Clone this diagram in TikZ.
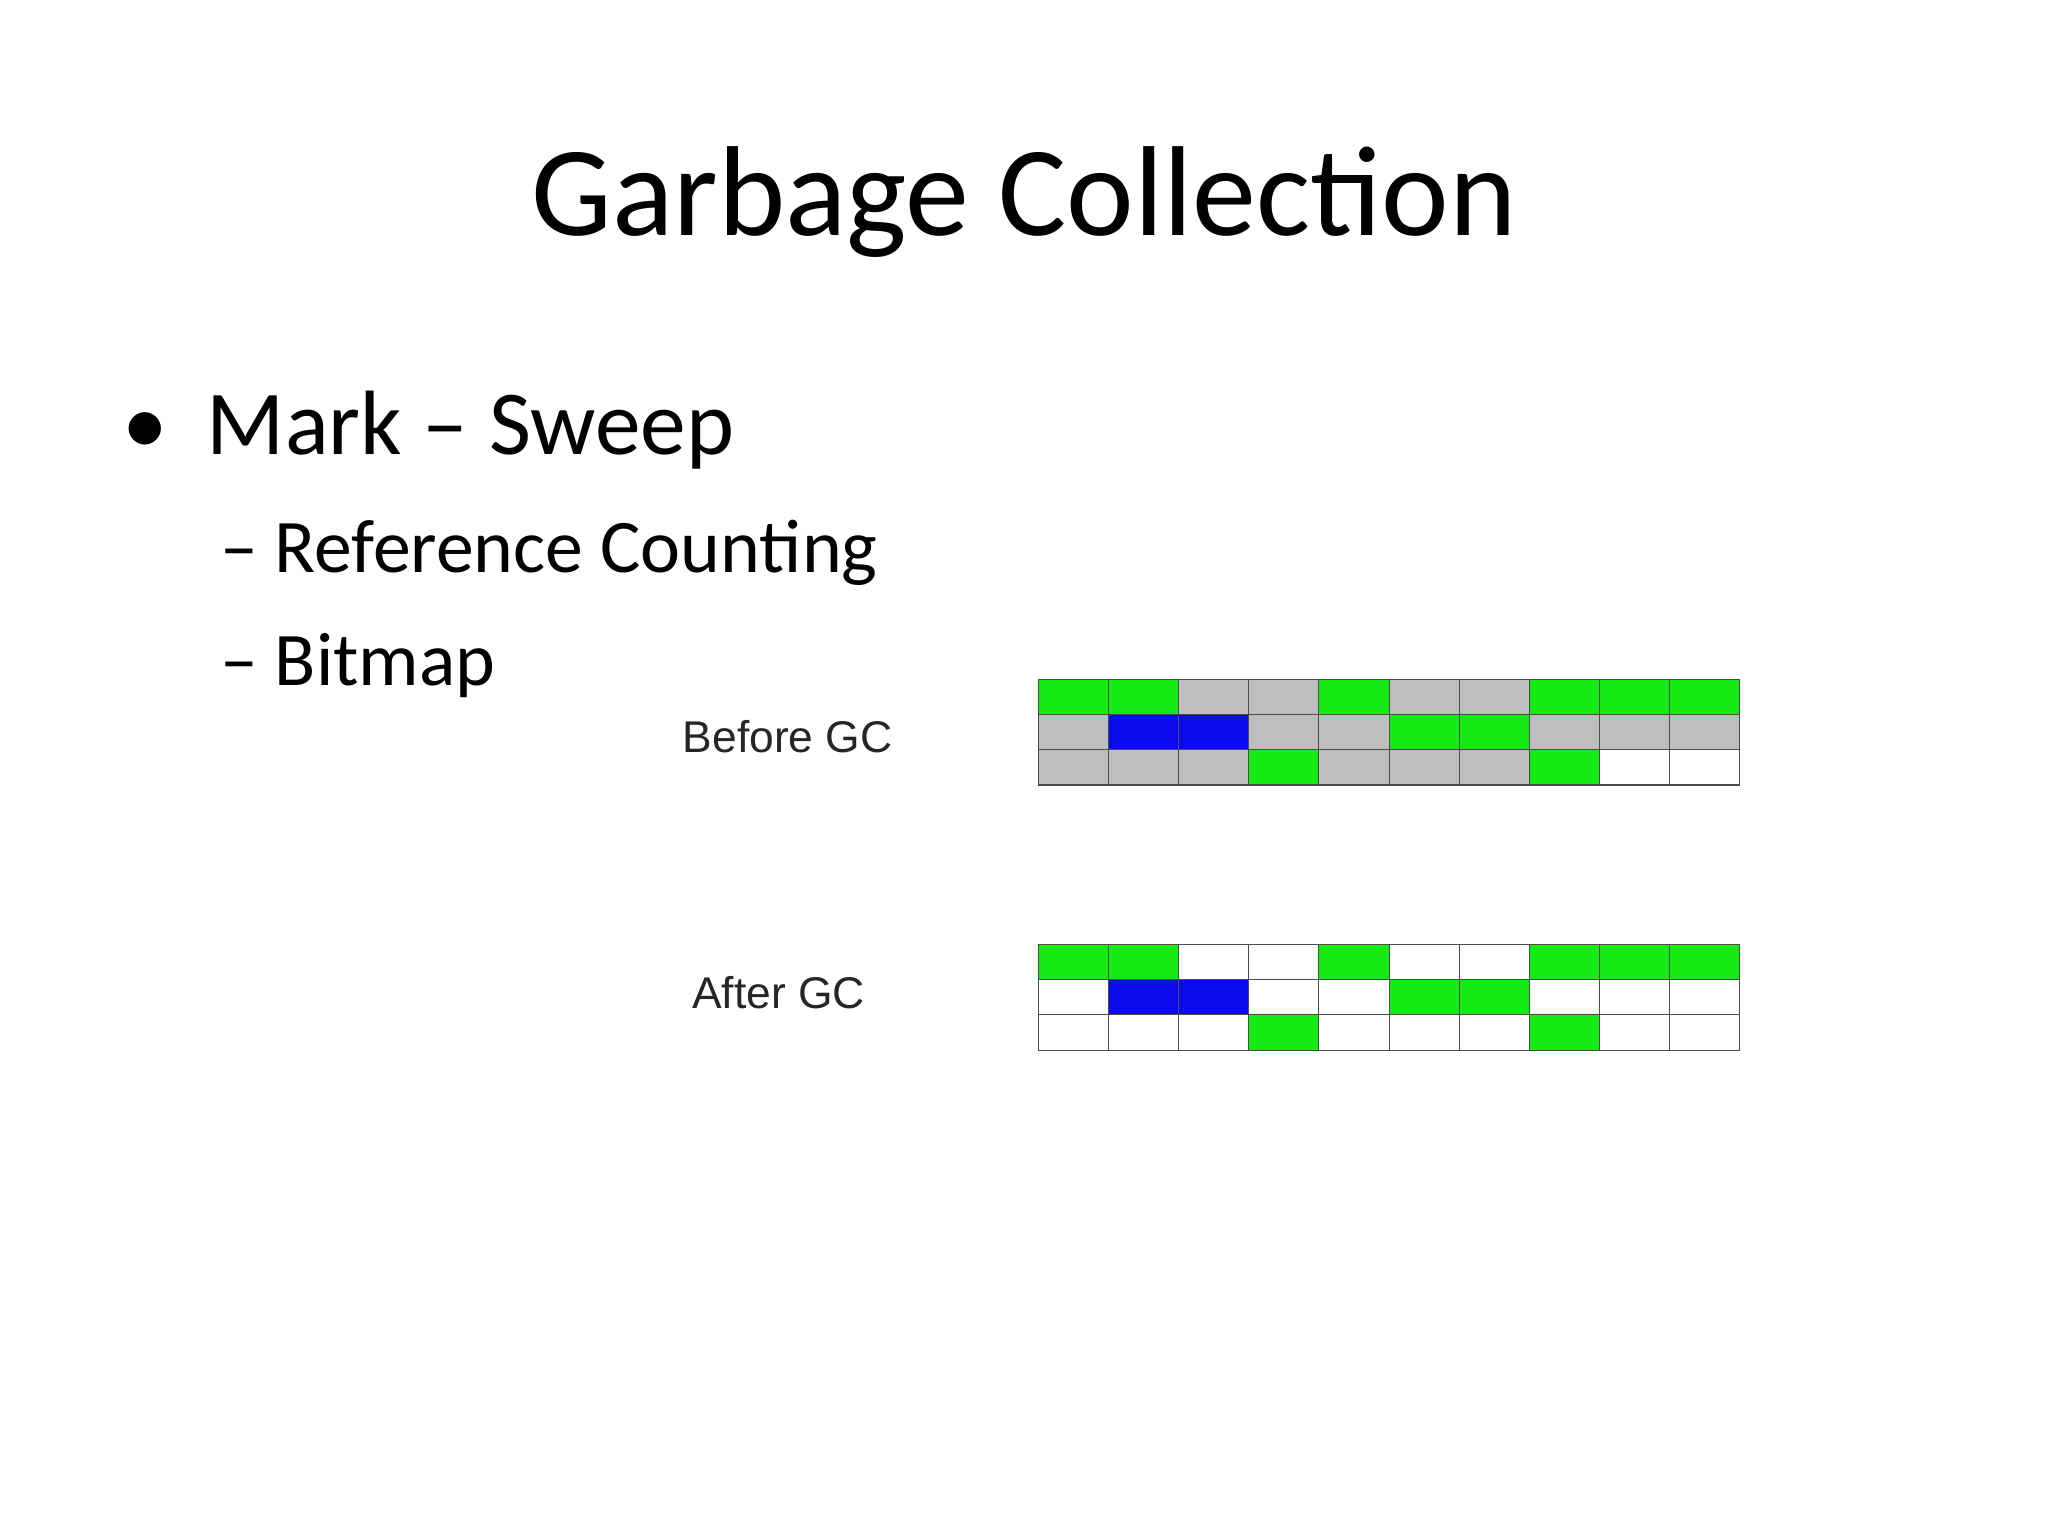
\documentclass[tikz,border=0pt]{standalone}
\usepackage{fontspec}
\setmainfont{Carlito}
\newfontfamily\arial{Liberation Sans}
\definecolor{cg}{RGB}{20,235,20}
\definecolor{cgr}{RGB}{190,190,190}
\definecolor{cb}{RGB}{10,10,235}
\tikzset{cell/.style={draw=black!70,line width=0.8pt},
lbl/.style={font=\arial\fontsize{34}{34}\selectfont,text=black!85}}
\begin{document}
\begin{tikzpicture}[x=1pt,y=-1pt]
\useasboundingbox (0,0) rectangle (1568,1176);
\fill[white] (0,0) rectangle (1568,1176);
\node[anchor=base,font=\fontsize{98}{98}\selectfont] (title) at (784,180) {Garbage Collection};
\node[anchor=base west,font=\fontsize{70}{70}\selectfont] (b1) at (90,348) {•\hspace{30pt}Mark – Sweep};
\node[anchor=base west,font=\fontsize{58}{58}\selectfont] (b2) at (165,438) {– Reference Counting};
\node[anchor=base west,font=\fontsize{58}{58}\selectfont] (b3) at (165,525) {– Bitmap};
\node[lbl] (before) at (603,564) {Before GC};
\node[lbl] (after) at (596,760) {After GC};
\def\cw{53.7}
\foreach \r/\row in {0/{cg,cg,cgr,cgr,cg,cgr,cgr,cg,cg,cg},1/{cgr,cb,cb,cgr,cgr,cg,cg,cgr,cgr,cgr},2/{cgr,cgr,cgr,cg,cgr,cgr,cgr,cg,white,white}}{
 \foreach \c [count=\i from 0] in \row {
  \filldraw[cell,fill=\c] (795+\i*\cw,520+\r*27) rectangle ++(\cw,27);}}
\foreach \r/\row in {0/{cg,cg,white,white,cg,white,white,cg,cg,cg},1/{white,cb,cb,white,white,cg,cg,white,white,white},2/{white,white,white,cg,white,white,white,cg,white,white}}{
 \foreach \c [count=\i from 0] in \row {
  \filldraw[cell,fill=\c] (795+\i*\cw,723+\r*27) rectangle ++(\cw,27);}}
\end{tikzpicture}
\end{document}
